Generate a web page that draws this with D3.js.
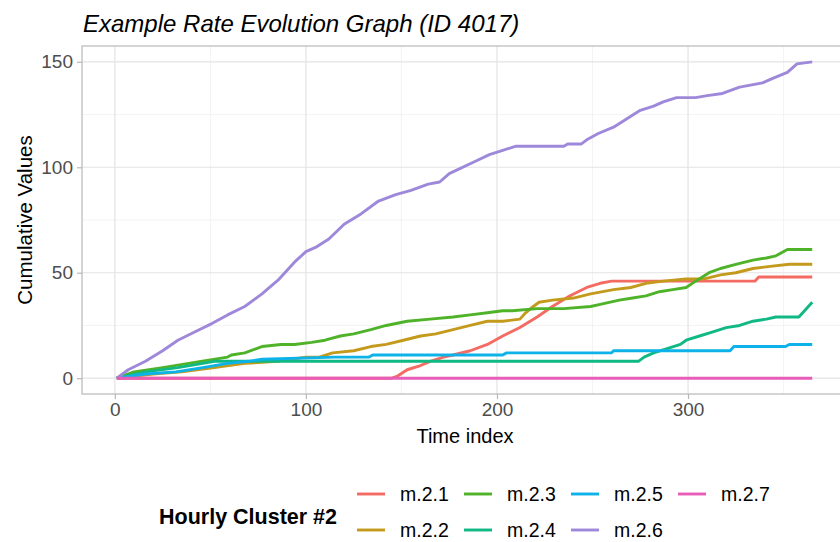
<!DOCTYPE html>
<html>
<head>
<meta charset="utf-8">
<script src="https://cdn.jsdelivr.net/npm/d3@7"></script>
<style>
  body { margin: 0; background: #fff; }
  svg text { font-family: "Liberation Sans", Arial, sans-serif; }
</style>
</head>
<body>
<svg id="chart" width="840" height="542"></svg>
<script>
// series names and colours (ggplot hue palette, toned like the picture)
const seriesNames = ["m.2.1", "m.2.2", "m.2.3", "m.2.4", "m.2.5", "m.2.6", "m.2.7"]
const seriesColors = ["#F46B63", "#C49A1C", "#4FB329", "#10B884", "#0DB3E8", "#9E88DA", "#E85DB8"]

// [time index, cumulative value]
const m21 = [[1,0],[145,0],[148,1],[153,4],[160,6],[165,8],[172,10],[177,11],[186,13],[195,16],[203,20],[212,24],[221,29],[229,34],[238,39],[247,43],[254,45],[260,46],[335,46],[337,48],[365,48]]
const m22 = [[1,0],[20,2],[35,3],[52,5],[68,7],[85,8],[100,10],[107,10],[114,12],[125,13],[134,15],[142,16],[151,18],[160,20],[168,21],[177,23],[186,25],[195,27],[203,27],[212,28],[215,31],[219,34],[222,36],[229,37],[240,38],[249,40],[261,42],[270,43],[278,45],[287,46],[299,47],[308,47],[317,49],[325,50],[334,52],[343,53],[353,54],[365,54]]
const m23 = [[1,0],[10,3],[25,5],[45,8],[59,10],[61,11],[68,12],[77,15],[87,16],[94,16],[103,17],[110,18],[118,20],[125,21],[134,23],[142,25],[153,27],[165,28],[177,29],[186,30],[195,31],[203,32],[208,32],[221,33],[235,33],[249,34],[254,35],[264,37],[271,38],[278,39],[285,41],[292,42],[299,43],[304,46],[311,50],[317,52],[325,54],[334,56],[341,57],[346,58],[352,61],[365,61]]
const m24 = [[1,0],[16,3],[33,5],[46,7],[52,8],[274,8],[277,10],[282,12],[289,14],[296,16],[299,18],[306,20],[313,22],[320,24],[327,25],[334,27],[341,28],[346,29],[358,29],[365,36]]
const m25 = [[1,0],[16,2],[32,3],[46,5],[59,7],[70,8],[77,9],[115,10],[133,10],[135,11],[203,11],[205,12],[260,12],[261,13],[322,13],[324,15],[351,15],[353,16],[365,16]]
const m26 = [[1,0],[7,4],[16,8],[25,13],[33,18],[42,22],[51,26],[59,30],[68,34],[77,40],[86,47],[94,55],[100,60],[105,62],[112,66],[120,73],[129,78],[138,84],[147,87],[155,89],[164,92],[170,93],[175,97],[189,103],[196,106],[203,108],[210,110],[235,110],[237,111],[244,111],[247,113],[253,116],[261,119],[268,123],[275,127],[282,129],[287,131],[294,133],[304,133],[310,134],[318,135],[327,138],[339,140],[344,142],[352,145],[357,149],[365,150]]
const m27 = [[1,0],[365,0]]
const seriesValues = [m21, m22, m23, m24, m25, m26, m27]

// ticks
const xMajor = [0, 100, 200, 300]
const xMinor = [50, 150, 250, 350]
const yMajor = [0, 50, 100, 150]
const yMinor = [25, 75, 125]

const panel = {left: 82, right: 847, top: 46, bottom: 394}

var svg = d3.select("#chart")

// scales with ggplot style 5% expansion
var xScale = d3.scaleLinear().domain([-17.2, 383.2]).range([panel.left, panel.right])
var yScale = d3.scaleLinear().domain([-7.5, 157.5]).range([panel.bottom, panel.top])

// title
svg.append("text")
  .attr("x", 83).attr("y", 32)
  .attr("font-size", "24px").attr("font-style", "italic")
  .attr("fill", "#000")
  .text("Example Rate Evolution Graph (ID 4017)")

// gridlines
var grid = svg.append("g")
grid.selectAll(".xminor").data(xMinor).enter().append("line")
  .attr("x1", d => xScale(d)).attr("x2", d => xScale(d))
  .attr("y1", panel.top).attr("y2", panel.bottom)
  .attr("stroke", "#F0F0F0").attr("stroke-width", 0.8)
grid.selectAll(".yminor").data(yMinor).enter().append("line")
  .attr("y1", d => yScale(d)).attr("y2", d => yScale(d))
  .attr("x1", panel.left).attr("x2", panel.right)
  .attr("stroke", "#F0F0F0").attr("stroke-width", 0.8)
grid.selectAll(".xmajor").data(xMajor).enter().append("line")
  .attr("x1", d => xScale(d)).attr("x2", d => xScale(d))
  .attr("y1", panel.top).attr("y2", panel.bottom)
  .attr("stroke", "#E3E3E3").attr("stroke-width", 1.2)
grid.selectAll(".ymajor").data(yMajor).enter().append("line")
  .attr("y1", d => yScale(d)).attr("y2", d => yScale(d))
  .attr("x1", panel.left).attr("x2", panel.right)
  .attr("stroke", "#E3E3E3").attr("stroke-width", 1.2)

// lines
var line = d3.line()
  .x(d => xScale(d[0]))
  .y(d => yScale(d[1]))

svg.append("g").selectAll("path")
  .data(seriesValues)
  .enter().append("path")
  .attr("d", line)
  .attr("fill", "none")
  .attr("stroke", (d, i) => seriesColors[i])
  .attr("stroke-width", 2.9)
  .attr("stroke-linejoin", "round")
  .attr("stroke-linecap", "butt")

// panel border
svg.append("rect")
  .attr("x", panel.left).attr("y", panel.top)
  .attr("width", panel.right - panel.left).attr("height", panel.bottom - panel.top)
  .attr("fill", "none").attr("stroke", "#B8B8B8").attr("stroke-width", 1.2)

// axes
var xAxis = d3.axisBottom(xScale).tickValues(xMajor).tickSize(5).tickPadding(4)
var yAxis = d3.axisLeft(yScale).tickValues(yMajor).tickSize(5).tickPadding(4)

var gx = svg.append("g").attr("transform", "translate(0," + panel.bottom + ")").call(xAxis)
var gy = svg.append("g").attr("transform", "translate(" + panel.left + ",0)").call(yAxis)
;[gx, gy].forEach(g => {
  g.select(".domain").remove()
  g.selectAll(".tick line").attr("stroke", "#B8B8B8").attr("stroke-width", 1.2)
  g.selectAll(".tick text")
    .attr("fill", "#4D4D4D")
    .attr("font-size", "19px")
    .attr("font-family", "Liberation Sans, Arial, sans-serif")
})

// axis titles
svg.append("text")
  .attr("x", 465).attr("y", 443)
  .attr("text-anchor", "middle")
  .attr("font-size", "20px")
  .text("Time index")

svg.append("text")
  .attr("transform", "translate(32,220) rotate(-90)")
  .attr("text-anchor", "middle")
  .attr("font-size", "20.5px")
  .text("Cumulative Values")

// legend
var legend = svg.append("g")
legend.append("text")
  .attr("x", 159).attr("y", 524)
  .attr("font-size", "21.5px").attr("font-weight", "bold")
  .text("Hourly Cluster #2")

const colX = [357, 464, 571, 678]
const rowY = [494, 530]
var items = legend.selectAll(".item")
  .data(seriesNames)
  .enter().append("g")
  .attr("transform", (d, i) => "translate(" + colX[Math.floor(i / 2)] + "," + rowY[i % 2] + ")")
items.append("line")
  .attr("x1", 0).attr("x2", 28)
  .attr("y1", 0).attr("y2", 0)
  .attr("stroke", (d, i) => seriesColors[i])
  .attr("stroke-width", 2.9)
items.append("text")
  .attr("x", 43).attr("y", 0).attr("dy", "0.35em")
  .attr("font-size", "19.5px")
  .attr("fill", "#000")
  .text(d => d)
</script>
</body>
</html>
